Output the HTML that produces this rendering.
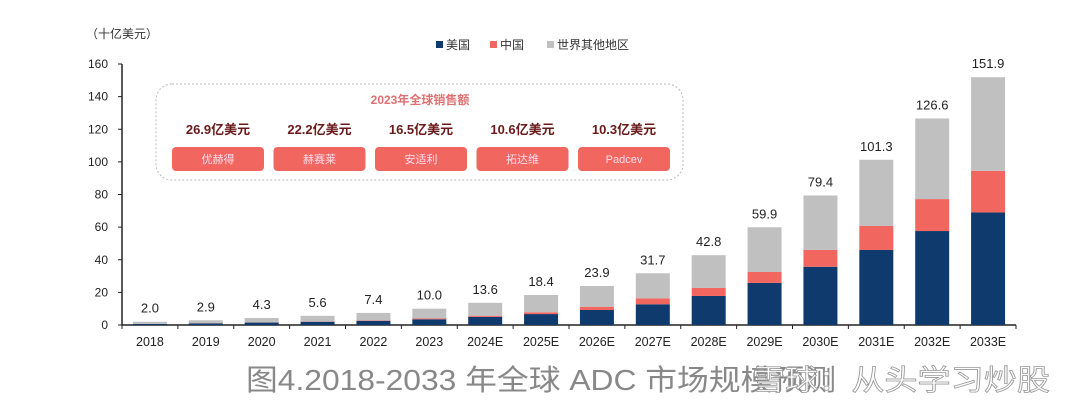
<!DOCTYPE html>
<html><head><meta charset="utf-8"><style>
body{margin:0;background:#fff;width:1080px;height:409px;overflow:hidden;font-family:"Liberation Sans","Noto Sans CJK SC",sans-serif;}
svg text{font-family:"Liberation Sans","Noto Sans CJK SC",sans-serif;}
</style></head><body>
<svg id="chart" width="1080" height="409" viewBox="0 0 1080 409" xmlns="http://www.w3.org/2000/svg">
<text x="86" y="38" font-size="12" fill="#333" font-family="Noto Serif CJK SC,serif">（十亿美元）</text>
<g font-size="12" fill="#333">
<rect x="436" y="41" width="7" height="7" fill="#0f3a6e"/><text x="446" y="49">美国</text>
<rect x="490" y="41" width="7" height="7" fill="#f26660"/><text x="500" y="49">中国</text>
<rect x="547" y="41" width="7" height="7" fill="#c0c0c0"/><text x="557" y="49">世界其他地区</text>
</g>
<g>
<rect x="156" y="84" width="527" height="96" rx="16" fill="none" stroke="#bbb" stroke-dasharray="2,2"/>
<text x="420" y="104" text-anchor="middle" font-size="12" font-weight="bold" fill="#e07070">2023年全球销售额</text>
</g>
<g id="callout"></g>
<g id="axes"></g>
<g id="bars"></g>
<text x="246" y="390" font-size="29" fill="#888" textLength="590" lengthAdjust="spacingAndGlyphs">图4.2018-2033 年全球 ADC 市场规模预测</text>
<text x="752" y="390" font-size="29" fill="#fff" stroke="#999" stroke-width="0.8" textLength="298" lengthAdjust="spacingAndGlyphs">雪球：从头学习炒股</text>
</svg>
<script>
const categories=["2018","2019","2020","2021","2022","2023","2024E","2025E","2026E","2027E","2028E","2029E","2030E","2031E","2032E","2033E"];
const usValues=[0.7,1.0,1.5,2.0,2.6,3.5,5.0,6.7,9.2,12.7,17.8,25.8,35.7,46.0,57.6,69.0];
const chinaValues=[0.0,0.1,0.1,0.2,0.3,0.5,0.7,1.1,2.0,3.6,4.9,6.7,10.3,14.7,19.6,25.5];
const totals=[2.0,2.9,4.3,5.6,7.4,10.0,13.6,18.4,23.9,31.7,42.8,59.9,79.4,101.3,126.6,151.9];
const yTicks=[0,20,40,60,80,100,120,140,160];
const drugNames=["优赫得","赫赛莱","安适利","拓达维","Padcev"];
const drugSales=["26.9亿美元","22.2亿美元","16.5亿美元","10.6亿美元","10.3亿美元"];
const NS="http://www.w3.org/2000/svg";
const x0=122,x1=1016,y0=325,pxPerUnit=261/160;
const bw=(x1-x0)/categories.length;
const Y=v=>y0-v*pxPerUnit;
const X=i=>x0+bw*i+bw/2;
function mk(tag,attrs,parent,txt){const e=document.createElementNS(NS,tag);for(const k in attrs)e.setAttribute(k,attrs[k]);if(txt!==undefined)e.textContent=txt;parent.appendChild(e);return e;}
const axes=document.getElementById('axes'),bars=document.getElementById('bars'),cal=document.getElementById('callout');
let a=mk('line',{x1:x0,y1:Y(160),x2:x0,y2:y0,stroke:'#222','stroke-width':1.5},axes);


a=mk('line',{x1:x0,y1:y0,x2:x1,y2:y0,stroke:'#222','stroke-width':1.5},axes);


yTicks.forEach(t=>{
  mk('line',{x1:x0-4,y1:Y(t),x2:x0,y2:Y(t),stroke:'#222'},axes);
  const l=mk('text',{x:x0-14,y:Y(t)+4,'text-anchor':'end','font-size':12,fill:'#222'},axes,t);
  
  
});
for(let i=0;i<=categories.length;i++){mk('line',{x1:x0+bw*i,y1:y0,x2:x0+bw*i,y2:y0+4,stroke:'#222'},axes);}
categories.forEach((c,i)=>{
  const l=mk('text',{x:X(i),y:346,'text-anchor':'middle','font-size':12.5,fill:'#222'},axes,c);
  
  
  const w=34,us=usValues[i],cn=chinaValues[i],rest=totals[i]-us-cn;
  const segs=[[0,us,'#0f3a6e','bar-us'],[us,cn,'#f26660','bar-china'],[us+cn,rest,'#c0c0c0','bar-rest']];
  segs.forEach(s=>{
    const r=mk('rect',{x:X(i)-w/2,y:Y(s[0]+s[1]),width:w,height:s[1]*pxPerUnit,fill:s[2]},bars);
    
    
  });
  const tl=mk('text',{x:X(i),y:Y(totals[i])-9,'text-anchor':'middle','font-size':13,fill:'#222'},bars,totals[i].toFixed(1));
  
  
});
drugNames.forEach((n,i)=>{
  const cx=218+i*101.5;
  const v=mk('text',{x:cx,y:134,'text-anchor':'middle','font-size':13,'font-weight':'bold',fill:'#6b1a1a'},cal,drugSales[i]);
  
  
  const b=mk('rect',{x:cx-46,y:147,width:92,height:24,rx:4,fill:'#f26660'},cal);
  
  
  const t=mk('text',{x:cx,y:163,'text-anchor':'middle','font-size':11,fill:'#fde'},cal,n);
  
  
});
</script>
</body></html>
